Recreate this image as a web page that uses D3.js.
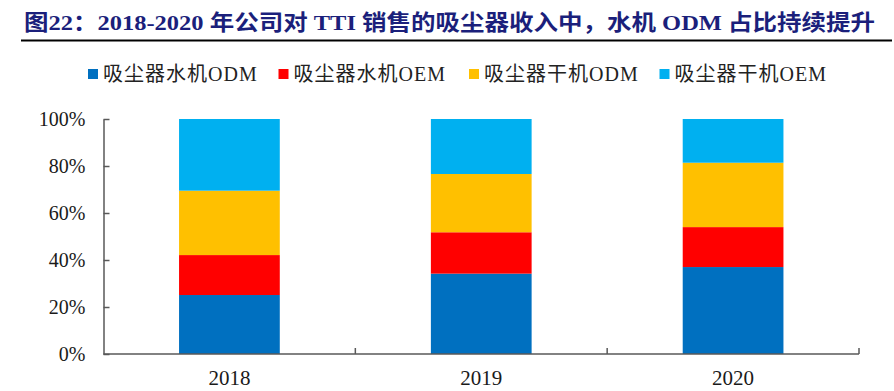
<!DOCTYPE html>
<html>
<head>
<meta charset="utf-8">
<script src="https://cdn.jsdelivr.net/npm/d3@7"></script>
<style>
  html, body { margin: 0; padding: 0; background: #fff; }
  svg { display: block; }
</style>
</head>
<body>
<svg id="chart" width="894" height="391"></svg>
<script>
const titleText = "图22：2018-2020 年公司对 TTI 销售的吸尘器收入中，水机 ODM 占比持续提升";
const categories = ["2018", "2019", "2020"];
const seriesNames = ["吸尘器水机ODM", "吸尘器水机OEM", "吸尘器干机ODM", "吸尘器干机OEM"];
const wetODM = [25.1, 34.2, 37.0];
const wetOEM = [17.0, 17.6, 17.0];
const dryODM = [27.4, 24.8, 27.4];
const dryOEM = [30.5, 23.4, 18.6];
const yTickValues = [0, 20, 40, 60, 80, 100];
const colors = ["#0070C0", "#FF0000", "#FFC000", "#00B0F0"];

const seriesValues = [wetODM, wetOEM, dryODM, dryOEM];
const table = categories.map((c, i) => {
  const row = { year: c };
  seriesNames.forEach((s, j) => row[s] = seriesValues[j][i]);
  return row;
});

const svg = d3.select("#chart");
const serif = "'Liberation Serif', 'Times New Roman', 'Noto Sans CJK SC', serif";

// Title
svg.append("text")
  .attr("x", 24).attr("y", 30)
  .attr("font-family", serif)
  .attr("font-weight", "bold")
  .attr("font-size", 22)
  .attr("fill", "#1B1F7B")
  .attr("textLength", 851)
  .attr("lengthAdjust", "spacingAndGlyphs")
  .text(titleText);
svg.append("line")
  .attr("x1", 21).attr("x2", 892).attr("y1", 40.5).attr("y2", 40.5)
  .attr("stroke", "#000").attr("stroke-width", 2);

// Legend
const legend = svg.append("g");
seriesNames.forEach((s, i) => {
  const gx = 88 + i * 190.5;
  legend.append("rect").attr("x", gx).attr("y", 69).attr("width", 10).attr("height", 10).attr("fill", colors[i]);
  legend.append("text").attr("x", gx + 15).attr("y", 81)
    .attr("font-family", serif).attr("font-size", 20).attr("fill", "#222")
    .attr("letter-spacing", 1)
    .text(s);
});

// Scales
const x = d3.scaleBand().domain(categories).range([103.5, 859]).paddingInner(0.6).paddingOuter(0.3);
const y = d3.scaleLinear().domain([0, 100]).range([354, 119]);

const stack = d3.stack().keys(seriesNames);
const stacked = stack(table);

svg.append("g").selectAll("g").data(stacked).join("g")
  .attr("fill", (d, i) => colors[i])
  .selectAll("rect").data(d => d).join("rect")
  .attr("x", d => x(d.data.year))
  .attr("width", x.bandwidth())
  .attr("y", d => y(d[1]))
  .attr("height", d => y(d[0]) - y(d[1]));

// Y axis
const yAxis = d3.axisLeft(y).tickValues(yTickValues).tickFormat(d => d + "%")
  .tickSizeInner(-6).tickSizeOuter(0).tickPadding(18);
const yg = svg.append("g").attr("transform", "translate(103.5,0)").call(yAxis);
yg.select(".domain").attr("stroke", "#595959").attr("stroke-width", 1.5);
yg.selectAll(".tick line").attr("stroke", "#595959").attr("stroke-width", 1.5);
yg.selectAll(".tick text").attr("font-family", serif).attr("font-size", 20).attr("fill", "#1a1a1a");

// X axis
const xg = svg.append("g");
xg.append("line").attr("x1", 103.5).attr("x2", 859).attr("y1", y(0)).attr("y2", y(0))
  .attr("stroke", "#595959").attr("stroke-width", 1.5);
const step = x.step();
const boundaries = categories.map(c => x(c) + x.bandwidth() / 2 + step / 2);
xg.selectAll("line.tk").data(boundaries).join("line").attr("class", "tk")
  .attr("x1", d => d).attr("x2", d => d).attr("y1", y(0)).attr("y2", y(0) - 6)
  .attr("stroke", "#595959").attr("stroke-width", 1.5);
xg.selectAll("text").data(categories).join("text")
  .attr("x", d => x(d) + x.bandwidth() / 2).attr("y", 385)
  .attr("text-anchor", "middle")
  .attr("font-family", serif).attr("font-size", 21).attr("fill", "#1a1a1a")
  .text(d => d);
</script>
</body>
</html>
